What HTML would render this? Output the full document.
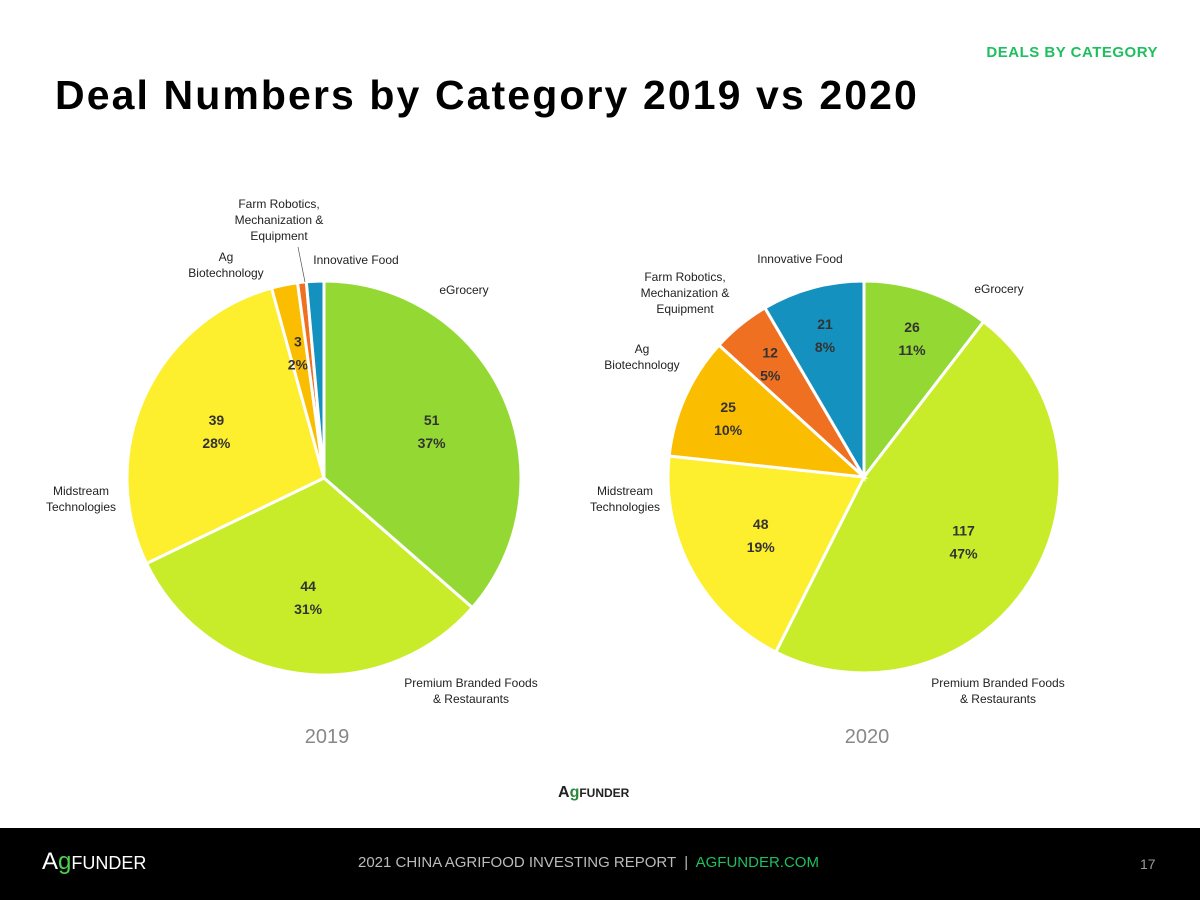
<!DOCTYPE html>
<html><head><meta charset="utf-8"><style>
body{margin:0;width:1200px;height:900px;background:#fff;font-family:"Liberation Sans",sans-serif;position:relative;overflow:hidden}
.t{position:absolute}
</style></head><body>
<div class="t" style="right:42px;top:44px;color:#1fbf5f;font-weight:bold;font-size:15px;letter-spacing:0.5px">DEALS BY CATEGORY</div>
<div class="t" style="left:55px;top:72px;font-weight:bold;font-size:41px;letter-spacing:2.1px;color:#000">Deal Numbers by Category 2019 vs 2020</div>
<svg id="chart" width="1200" height="830" style="position:absolute;left:0;top:0" font-family="Liberation Sans, sans-serif"></svg>
<div class="t" style="left:558px;top:784px;font-size:16px;font-weight:bold;color:#222">A<span style="color:#2a8a3a">g</span><span style="font-size:12px">FUNDER</span></div>
<div style="position:absolute;left:0;top:828px;width:1200px;height:72px;background:#000">
<div class="t" style="left:42px;top:20px;color:#fff;font-size:24px">A<span style="color:#4ccf4c">g</span><span style="font-size:18px">FUNDER</span></div>
<div class="t" style="left:358px;top:26px;color:#bbb;font-size:15px">2021 CHINA AGRIFOOD INVESTING REPORT &nbsp;|&nbsp; <span style="color:#1fbf5f">AGFUNDER.COM</span></div>
<div class="t" style="left:1140px;top:28px;color:#999;font-size:14px">17</div>
</div>
<script>
const categories=["eGrocery","Premium Branded Foods & Restaurants","Midstream Technologies","Ag Biotechnology","Farm Robotics, Mechanization & Equipment","Innovative Food"];
const values2019=[51,44,39,3,1,2];
const values2020=[26,117,48,25,12,21];
const pct2019=["37%","31%","28%","2%","",""];
const pct2020=["11%","47%","19%","10%","5%","8%"];
const colors=["#94d933","#c8ec2a","#fdee2e","#fbbd00","#f07022","#1591c0"];
const svg=document.getElementById('chart');
const NS="http://www.w3.org/2000/svg";
function el(t,a){const e=document.createElementNS(NS,t);for(const k in a)e.setAttribute(k,a[k]);svg.appendChild(e);return e;}
function pie(vals,pcts,cx,cy,r,year){
  const tot=vals.reduce((a,b)=>a+b,0);let a0=0;
  vals.forEach((v,i)=>{
    const a1=a0+v/tot*2*Math.PI;
    const p=(a)=>[cx+r*Math.sin(a),cy-r*Math.cos(a)];
    const [x0,y0]=p(a0),[x1,y1]=p(a1);
    const s=el('path',{d:`M${cx},${cy}L${x0},${y0}A${r},${r} 0 ${a1-a0>Math.PI?1:0} 1 ${x1},${y1}Z`,fill:colors[i],stroke:'#fff','stroke-width':3});
    
    
    const frac=v/tot;
    if(pcts[i]){
      const m=(a0+a1)/2,f=frac<0.03?0.66:(frac<0.12?0.76:0.6);
      const lx=cx+r*f*Math.sin(m),ly=cy-r*f*Math.cos(m);
      const t1=el('text',{x:lx,y:ly-4,'text-anchor':'middle','font-size':14,'font-weight':'bold',fill:'#333'});t1.textContent=v;
      
      
      const t2=el('text',{x:lx,y:ly+19,'text-anchor':'middle','font-size':14,'font-weight':'bold',fill:'#333'});t2.textContent=pcts[i];
      
      
    }
    a0=a1;
  });
  const y=el('text',{x:cx+3,y:743,'text-anchor':'middle','font-size':20,fill:'#888'});y.textContent=year;
  
  
}
pie(values2019,pct2019,324,478,197,"2019");
pie(values2020,pct2020,864,477,196,"2020");
function lab(lines,x,y,name){lines.forEach((l,k)=>{const t=el('text',{x:x,y:y+k*16,'text-anchor':'middle','font-size':12,fill:'#222'});t.textContent=l;});}
lab(["Farm Robotics,","Mechanization &","Equipment"],279,208,'label-farm-robotics-2019');
lab(["Ag","Biotechnology"],226,261,'label-ag-biotech-2019');
lab(["Innovative Food"],356,264,'label-innovative-food-2019');
lab(["eGrocery"],464,294,'label-egrocery-2019');
lab(["Midstream","Technologies"],81,495,'label-midstream-2019');
lab(["Premium Branded Foods","& Restaurants"],471,687,'label-premium-2019');
el('line',{x1:298,y1:247,x2:305,y2:282,stroke:'#555','stroke-width':0.7});
lab(["Innovative Food"],800,263,'label-innovative-food-2020');
lab(["Farm Robotics,","Mechanization &","Equipment"],685,281,'label-farm-robotics-2020');
lab(["Ag","Biotechnology"],642,353,'label-ag-biotech-2020');
lab(["eGrocery"],999,293,'label-egrocery-2020');
lab(["Midstream","Technologies"],625,495,'label-midstream-2020');
lab(["Premium Branded Foods","& Restaurants"],998,687,'label-premium-2020');
</script>
</body></html>
